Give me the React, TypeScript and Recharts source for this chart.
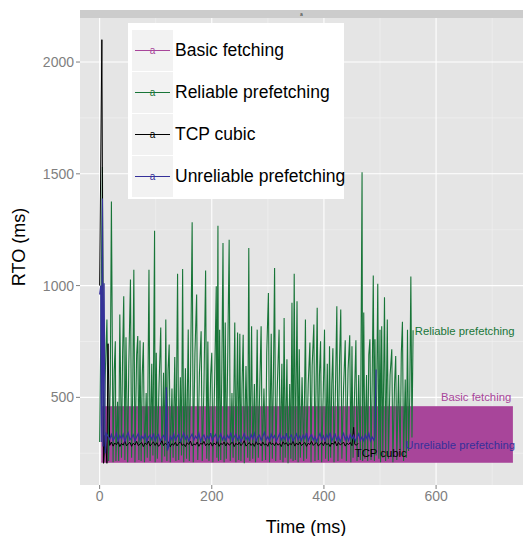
import {
  Area,
  CartesianGrid,
  ComposedChart,
  Legend,
  Line,
  ReferenceDot,
  XAxis,
  YAxis
} from 'recharts'

const FONT = '"Liberation Sans", Arial, Helvetica, sans-serif'

const seriesNames = ['Basic fetching', 'Reliable prefetching', 'TCP cubic', 'Unreliable prefetching']
const seriesColors = ['#A8459A', '#187538', '#000000', '#35309A']

const xTicks = [0, 200, 400, 600]
const xMinor = [100, 300, 500, 700]
const yTicks = [500, 1000, 1500, 2000]
const yMinor = [250, 750, 1250, 1750]

// basic fetching flips between ~210 and ~458 every sample, so it reads as a solid band
const basicFetching = [
  { t: 3, rto: [210, 458] },
  { t: 737, rto: [210, 458] }
]

const reliablePrefetching: [number, number][] = [
  [0, 300], [3, 1000], [5, 1530], [7, 210], [10, 600], [13, 848], [16, 215], [19, 560], [21, 1376], [24, 210],
  [26, 620], [28, 751], [29, 215], [32, 480], [34, 215], [36, 871], [39, 230], [41, 700], [43, 952], [45, 220],
  [47, 769], [50, 210], [52, 640], [55, 1027], [57, 230], [59, 520], [61, 1071], [63, 210], [66, 690], [68, 774],
  [70, 220], [72, 754], [74, 215], [76, 600], [78, 747], [80, 210], [83, 520], [85, 230], [88, 1071], [90, 215],
  [93, 650], [95, 240], [98, 1245], [99, 210], [101, 700], [103, 225], [106, 560], [109, 812], [111, 210], [114, 610],
  [116, 235], [118, 848], [120, 215], [122, 620], [124, 736], [126, 210], [129, 540], [131, 230], [134, 680], [136, 215],
  [139, 1053], [141, 220], [144, 590], [146, 240], [148, 1074], [150, 210], [153, 630], [155, 225], [158, 804], [160, 215],
  [162, 560], [165, 1283], [167, 210], [170, 700], [173, 960], [175, 220], [178, 610], [181, 796], [183, 215], [186, 540],
  [189, 1068], [191, 225], [193, 750], [195, 215], [198, 600], [200, 700], [202, 210], [205, 560], [208, 997], [209, 230],
  [211, 1268], [212, 215], [214, 803], [216, 220], [218, 640], [220, 1190], [222, 210], [224, 835], [226, 225], [228, 590],
  [231, 1205], [233, 215], [236, 520], [238, 230], [241, 835], [243, 210], [246, 790], [248, 220], [250, 785], [252, 215],
  [254, 560], [256, 780], [258, 205], [261, 640], [264, 230], [266, 1168], [268, 215], [271, 818], [273, 225], [276, 560],
  [278, 210], [281, 803], [283, 230], [286, 600], [288, 818], [290, 215], [293, 540], [296, 220], [298, 700], [301, 967],
  [303, 210], [306, 785], [308, 225], [310, 600], [312, 1079], [314, 215], [317, 560], [320, 803], [322, 220], [325, 650],
  [327, 210], [329, 855], [331, 230], [334, 670], [336, 205], [339, 560], [341, 225], [343, 923], [345, 215], [347, 1053],
  [349, 220], [352, 930], [354, 210], [356, 715], [358, 230], [361, 590], [364, 215], [367, 848], [369, 225], [372, 560],
  [375, 745], [377, 210], [379, 640], [382, 826], [384, 215], [386, 560], [388, 901], [390, 220], [392, 600], [394, 751],
  [396, 210], [399, 540], [401, 803], [403, 225], [406, 650], [408, 215], [410, 729], [412, 230], [414, 560], [416, 720],
  [418, 210], [421, 600], [423, 908], [425, 215], [428, 680], [430, 893], [432, 225], [435, 540], [438, 755], [440, 215],
  [443, 620], [446, 778], [448, 210], [450, 729], [452, 230], [455, 560], [457, 755], [459, 215], [462, 600], [465, 220],
  [468, 1507], [469, 215], [471, 880], [473, 225], [476, 600], [478, 215], [480, 690], [482, 760], [484, 220], [486, 560],
  [488, 1045], [490, 215], [491, 760], [493, 240], [496, 1008], [498, 225], [500, 803], [501, 210], [503, 818], [505, 230],
  [508, 948], [510, 215], [513, 848], [515, 225], [518, 600], [521, 715], [523, 210], [526, 560], [528, 685], [530, 220],
  [533, 600], [536, 240], [538, 700], [540, 838], [542, 215], [545, 580], [547, 230], [549, 803], [551, 260], [553, 500],
  [555, 1041], [557, 320], [559, 800]
]

const tcpCubic: [number, number][] = [
  [0, 1000], [4, 2100], [7, 205], [10, 330], [13, 205], [15, 740], [18, 285], [21, 300], [24, 282], [27, 296],
  [30, 288], [33, 302], [36, 280], [39, 294], [42, 286], [45, 305], [48, 283], [51, 292], [54, 299], [57, 281],
  [60, 295], [63, 287], [66, 303], [69, 284], [72, 291], [75, 298], [78, 280], [81, 296], [84, 289], [87, 304],
  [90, 282], [93, 293], [96, 300], [99, 285], [102, 297], [105, 281], [108, 290], [111, 306], [114, 284], [117, 295],
  [120, 288], [123, 301], [126, 279], [129, 293], [132, 286], [135, 299], [138, 283], [141, 294], [144, 302], [147, 285],
  [150, 291], [153, 280], [156, 297], [159, 289], [162, 304], [165, 283], [168, 292], [171, 287], [174, 300], [177, 281],
  [180, 295], [183, 290], [186, 303], [189, 284], [192, 293], [195, 286], [198, 298], [201, 282], [204, 296], [207, 288],
  [210, 305], [213, 281], [216, 294], [219, 289], [222, 300], [225, 283], [228, 297], [231, 286], [234, 292], [237, 302],
  [240, 280], [243, 295], [246, 287], [249, 299], [252, 284], [255, 293], [258, 306], [261, 282], [264, 290], [267, 298],
  [270, 285], [273, 294], [276, 281], [279, 303], [282, 288], [285, 296], [288, 283], [291, 300], [294, 287], [297, 292],
  [300, 281], [303, 304], [306, 289], [309, 295], [312, 284], [315, 299], [318, 286], [321, 293], [324, 280], [327, 301],
  [330, 290], [333, 297], [336, 283], [339, 294], [342, 288], [345, 305], [348, 282], [351, 296], [354, 287], [357, 300],
  [360, 284], [363, 292], [366, 298], [369, 281], [372, 295], [375, 289], [378, 303], [381, 285], [384, 293], [387, 299],
  [390, 282], [393, 291], [396, 297], [399, 284], [402, 301], [405, 288], [408, 294], [411, 280], [414, 296], [417, 290],
  [420, 303], [423, 283], [426, 298], [429, 287], [432, 292], [435, 300], [438, 282], [441, 295], [444, 289], [447, 298],
  [450, 284], [453, 366], [455, 290], [458, 286], [461, 295]
]

const unreliablePrefetching: [number, number][] = [
  [0, 960], [2, 1000], [3, 300], [5, 1390], [6, 280], [8, 1010], [10, 250], [12, 338], [15, 326], [18, 312],
  [21, 334], [24, 306], [27, 322], [30, 340], [33, 304], [36, 328], [39, 315], [42, 335], [45, 302], [48, 326],
  [51, 342], [54, 310], [57, 320], [60, 333], [63, 305], [66, 324], [69, 338], [72, 308], [75, 327], [78, 316],
  [81, 336], [84, 303], [87, 322], [90, 331], [93, 312], [96, 339], [99, 306], [102, 325], [105, 334], [108, 304],
  [111, 321], [114, 330], [117, 306], [119, 545], [121, 262], [123, 280], [126, 326], [129, 311], [132, 337], [135, 307],
  [138, 324], [141, 335], [144, 303], [147, 320], [150, 341], [153, 313], [156, 328], [159, 305], [162, 323], [165, 336],
  [168, 309], [171, 326], [174, 316], [177, 338], [180, 304], [183, 322], [186, 332], [189, 308], [192, 327], [195, 314],
  [198, 340], [201, 306], [204, 324], [207, 334], [210, 303], [213, 321], [216, 337], [219, 310], [222, 326], [225, 307],
  [228, 330], [231, 317], [234, 342], [237, 305], [240, 323], [243, 335], [246, 309], [249, 327], [252, 302], [255, 320],
  [258, 338], [261, 311], [264, 325], [267, 306], [270, 333], [273, 315], [276, 339], [279, 304], [282, 322], [285, 331],
  [288, 308], [291, 326], [294, 343], [297, 310], [300, 324], [303, 305], [306, 335], [309, 317], [312, 329], [315, 303],
  [318, 321], [321, 337], [324, 309], [327, 326], [330, 313], [333, 340], [336, 306], [339, 323], [342, 332], [345, 304],
  [348, 320], [351, 336], [354, 310], [357, 327], [360, 307], [363, 331], [366, 316], [369, 341], [372, 305], [375, 324],
  [378, 334], [381, 308], [384, 325], [387, 303], [390, 322], [393, 338], [396, 311], [399, 328], [402, 306], [405, 333],
  [408, 317], [411, 342], [414, 304], [417, 323], [420, 335], [423, 309], [426, 326], [429, 302], [432, 321], [435, 339],
  [438, 310], [441, 327], [444, 306], [447, 334], [450, 315], [453, 330], [456, 304], [459, 322], [462, 337], [465, 308],
  [468, 324], [471, 306], [474, 332], [477, 314], [480, 338], [483, 305], [486, 323], [489, 309], [491, 326], [493, 625]
]

const toPoints = (rows: [number, number][]) => rows.map(([t, rto]) => ({ t, rto }))

// direct labels at the line ends: [series index, time, rto, side]
const endLabels: [number, number, number, 'left' | 'right'][] = [
  [1, 562, 797, 'right'],
  [0, 734, 500, 'left'],
  [3, 545, 287, 'right'],
  [2, 455, 251, 'right']
]

const LegendBox = () => (
  <div
    style={{
      background: '#ffffff',
      width: 216,
      height: 176,
      boxSizing: 'border-box',
      padding: '6px 0 0 4px',
      fontFamily: FONT
    }}
  >
    {seriesNames.map((name, i) => (
      <div key={name} style={{ display: 'flex', alignItems: 'center', height: 42 }}>
        <svg width={41} height={41} style={{ background: '#F2F2F2', display: 'block', flexShrink: 0 }}>
          <line x1={3} x2={38} y1={20.5} y2={20.5} stroke={seriesColors[i]} strokeWidth={1.1} />
          <text
            x={20.5}
            y={24}
            textAnchor="middle"
            fontSize={10}
            fill={seriesColors[i]}
            fontFamily={FONT}
          >
            a
          </text>
        </svg>
        <span style={{ marginLeft: 2, fontSize: 17.5, color: '#000', whiteSpace: 'nowrap' }}>{name}</span>
      </div>
    ))}
  </div>
)

export default function App() {
  return (
    <div style={{ position: 'absolute', left: 0, top: 0, width: 530, height: 536, background: '#fff' }}>
      {/* facet strip above the panel */}
      <div
        style={{
          position: 'absolute',
          left: 80,
          top: 10,
          width: 443,
          height: 8,
          background: '#CCCCCC',
          fontFamily: FONT,
          fontSize: 5,
          lineHeight: '8px',
          textAlign: 'center',
          color: '#333'
        }}
      >
        a
      </div>
      <ComposedChart
        width={530}
        height={536}
        margin={{ top: 18, right: 7, bottom: 0, left: 0 }}
        style={{ fontFamily: FONT }}
      >
        <CartesianGrid
          fill="#E5E5E5"
          fillOpacity={1}
          stroke="#F2F2F2"
          strokeWidth={0.6}
          horizontalValues={yMinor}
          verticalValues={xMinor}
        />
        <CartesianGrid
          stroke="#FFFFFF"
          strokeWidth={1.1}
          horizontalValues={yTicks}
          verticalValues={xTicks}
        />
        <XAxis
          dataKey="t"
          type="number"
          domain={[-35, 755]}
          ticks={xTicks}
          allowDataOverflow
          height={51}
          axisLine={false}
          tickSize={4}
          tickLine={{ stroke: '#7F7F7F' }}
          tick={{ fill: '#7F7F7F', fontSize: 14 }}
          label={{
            content: () => (
              <text x={306} y={533} textAnchor="middle" fontSize={18} fill="#000" fontFamily={FONT}>
                Time (ms)
              </text>
            )
          }}
        />
        <YAxis
          type="number"
          domain={[108, 2197]}
          ticks={yTicks}
          allowDataOverflow
          width={80}
          axisLine={false}
          tickSize={4}
          tickLine={{ stroke: '#7F7F7F' }}
          tick={{ fill: '#7F7F7F', fontSize: 14 }}
          label={{
            content: () => (
              <text
                x={25}
                y={247}
                textAnchor="middle"
                fontSize={18}
                fill="#000"
                fontFamily={FONT}
                transform="rotate(-90 25 247)"
              >
                RTO (ms)
              </text>
            )
          }}
        />
        <Area
          data={basicFetching}
          dataKey="rto"
          type="linear"
          fill={seriesColors[0]}
          fillOpacity={1}
          stroke={seriesColors[0]}
          strokeWidth={1}
          isAnimationActive={false}
        />
        <Line
          data={toPoints(reliablePrefetching)}
          dataKey="rto"
          type="linear"
          stroke={seriesColors[1]}
          strokeWidth={1.1}
          dot={false}
          isAnimationActive={false}
        />
        <Line
          data={toPoints(tcpCubic)}
          dataKey="rto"
          type="linear"
          stroke={seriesColors[2]}
          strokeWidth={1}
          dot={false}
          isAnimationActive={false}
        />
        <Line
          data={toPoints(unreliablePrefetching)}
          dataKey="rto"
          type="linear"
          stroke={seriesColors[3]}
          strokeWidth={1.2}
          dot={false}
          isAnimationActive={false}
        />
        {endLabels.map(([i, t, rto, side]) => (
          <ReferenceDot
            key={seriesNames[i]}
            x={t}
            y={rto}
            r={0}
            fill="none"
            stroke="none"
            label={{
              value: seriesNames[i],
              position: side,
              offset: 0,
              fill: seriesColors[i],
              fontSize: 11.3,
              fontFamily: FONT
            }}
          />
        ))}
        <Legend
          content={LegendBox}
          layout="vertical"
          align="center"
          verticalAlign="middle"
          wrapperStyle={{ left: 128, top: 23, width: 216, height: 176 }}
        />
      </ComposedChart>
    </div>
  )
}
